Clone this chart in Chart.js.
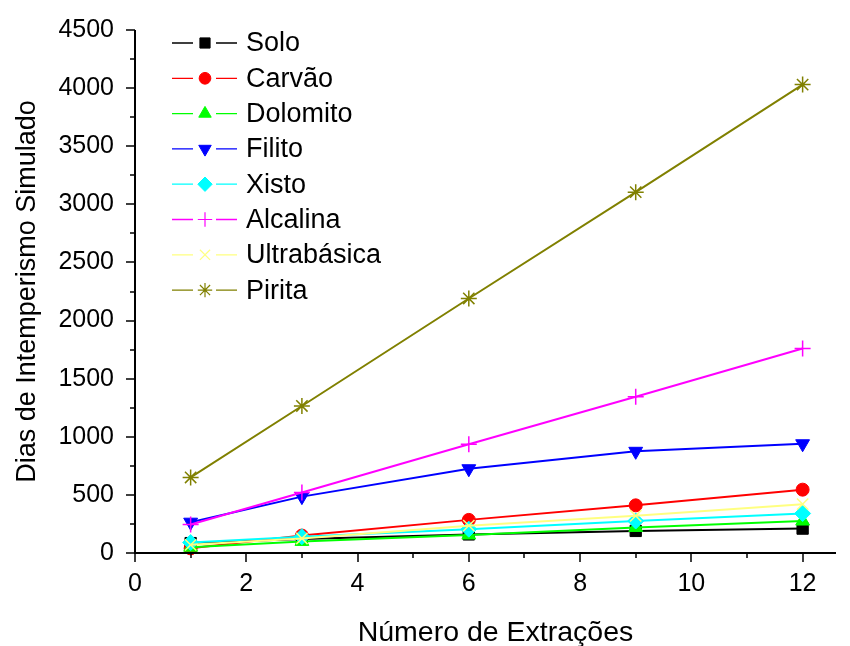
<!DOCTYPE html>
<html>
<head>
<meta charset="utf-8">
<script src="https://cdn.jsdelivr.net/npm/chart.js@4.4.1/dist/chart.umd.min.js"></script>
<style>
  html, body { margin: 0; padding: 0; background: #fff; }
  canvas { display: block; }
</style>
</head>
<body>
<canvas id="chart" width="850" height="646"></canvas>
<script>
// Number of extractions (x) and simulated weathering days per material
const extracoes = [1, 3, 6, 9, 12];
const solo        = [85, 120, 160, 190, 210];
const carvao      = [40, 150, 285, 410, 545];
const dolomito    = [50, 100, 155, 220, 275];
const filito      = [265, 485, 725, 875, 940];
const xisto       = [90, 140, 205, 275, 340];
const alcalina    = [245, 520, 935, 1345, 1760];
const ultrabasica = [70, 125, 235, 320, 420];
const pirita      = [650, 1265, 2190, 3105, 4030];

const seriesNames = ['Solo', 'Carvão', 'Dolomito', 'Filito', 'Xisto', 'Alcalina', 'Ultrabásica', 'Pirita'];
const seriesValues = [solo, carvao, dolomito, filito, xisto, alcalina, ultrabasica, pirita];

const xTickLabels = [0, 2, 4, 6, 8, 10, 12];
const yTickLabels = [0, 500, 1000, 1500, 2000, 2500, 3000, 3500, 4000, 4500];
const xTitle = 'Número de Extrações';

const FONT = '"Liberation Sans", Arial, sans-serif';

// marker look for each series
const styles = [
  { color: '#000000', pointStyle: 'rect',     radius: 8,   rotation: 0,   fill: true },
  { color: '#FF0000', pointStyle: 'circle',   radius: 6.5, rotation: 0,   fill: true },
  { color: '#00FF00', pointStyle: 'triangle', radius: 8,   rotation: 0,   fill: true },
  { color: '#0000FF', pointStyle: 'triangle', radius: 8,   rotation: 180, fill: true },
  { color: '#00FFFF', pointStyle: 'rectRot',  radius: 8,   rotation: 0,   fill: true },
  { color: '#FF00FF', pointStyle: 'cross',    radius: 8,   rotation: 0,   fill: false },
  { color: '#FFFF80', pointStyle: 'crossRot', radius: 8,   rotation: 0,   fill: false },
  { color: '#808000', pointStyle: 'star',     radius: 8,   rotation: 0,   fill: false }
];

const datasets = seriesNames.map((name, i) => ({
  label: name,
  data: extracoes.map((x, j) => ({ x: x, y: seriesValues[i][j] })),
  borderColor: styles[i].color,
  backgroundColor: styles[i].color,
  borderWidth: 2,
  pointStyle: styles[i].pointStyle,
  pointRadius: styles[i].radius,
  pointRotation: styles[i].rotation,
  pointBackgroundColor: styles[i].color,
  pointBorderColor: styles[i].color,
  pointBorderWidth: styles[i].fill ? 1 : 1.5,
  tension: 0,
  clip: false,
  order: seriesNames.length - i
}));

// axis lines with major and minor tick marks, plus the x-axis title
const axisFrame = {
  id: 'axisFrame',
  afterDraw(chart) {
    const { ctx, chartArea: a, scales: { x, y } } = chart;
    ctx.save();
    ctx.strokeStyle = '#000';
    ctx.lineWidth = 2;
    ctx.beginPath();
    ctx.moveTo(a.left, a.top);
    ctx.lineTo(a.left, a.bottom + 1);
    ctx.moveTo(a.left - 1, a.bottom);
    ctx.lineTo(a.right, a.bottom);
    ctx.stroke();
    ctx.lineWidth = 1.5;
    ctx.beginPath();
    x.ticks.forEach(t => {
      const px = Math.round(x.getPixelForValue(t.value));
      const len = xTickLabels.includes(t.value) ? 9 : 5;
      ctx.moveTo(px, a.bottom);
      ctx.lineTo(px, a.bottom + len);
    });
    y.ticks.forEach(t => {
      const py = Math.round(y.getPixelForValue(t.value));
      const len = yTickLabels.includes(t.value) ? 9 : 5;
      ctx.moveTo(a.left, py);
      ctx.lineTo(a.left - len, py);
    });
    ctx.stroke();

    ctx.fillStyle = '#000';
    ctx.font = '28.5px ' + FONT;
    ctx.textAlign = 'center';
    ctx.textBaseline = 'alphabetic';
    ctx.fillText(xTitle, (a.left + a.right) / 2 + 10, 641);
    ctx.restore();
  }
};

// legend with line + marker sample for each series
const lineLegend = {
  id: 'lineLegend',
  afterDraw(chart) {
    const { ctx } = chart;
    ctx.save();
    ctx.font = '27px ' + FONT;
    ctx.textBaseline = 'middle';
    ctx.textAlign = 'left';
    chart.data.datasets.forEach((ds, i) => {
      const yy = 43 + i * 35.3;
      ctx.strokeStyle = ds.borderColor;
      ctx.lineWidth = 1.3;
      ctx.beginPath();
      ctx.moveTo(172, yy); ctx.lineTo(193, yy);
      ctx.moveTo(216, yy); ctx.lineTo(237, yy);
      ctx.stroke();
      ctx.fillStyle = ds.pointBackgroundColor;
      ctx.strokeStyle = ds.pointBorderColor;
      ctx.lineWidth = ds.pointBorderWidth > 1 ? 1.2 : 1;
      Chart.helpers.drawPoint(ctx, {
        pointStyle: ds.pointStyle,
        radius: ds.pointRadius * 0.9,
        rotation: ds.pointRotation,
        borderWidth: 1
      }, 205, yy);
      ctx.fillStyle = '#000';
      ctx.fillText(ds.label, 246, yy + 1);
    });
    ctx.restore();
  }
};

new Chart(document.getElementById('chart'), {
  type: 'line',
  data: { datasets: datasets },
  options: {
    responsive: false,
    devicePixelRatio: 1,
    animation: false,
    layout: { padding: { top: 30, right: 14, left: 0, bottom: 0 } },
    plugins: { legend: { display: false }, tooltip: { enabled: false } },
    scales: {
      x: {
        type: 'linear',
        min: 0,
        max: 12.6,
        grid: { display: false, drawTicks: false },
        border: { display: false },
        afterBuildTicks: s => {
          s.ticks = [];
          for (let v = 0; v <= 12; v++) s.ticks.push({ value: v });
        },
        ticks: {
          autoSkip: false,
          maxRotation: 0,
          padding: 16,
          color: '#000',
          font: { family: FONT, size: 25 },
          callback: v => (xTickLabels.includes(v) ? String(v) : '')
        },
        title: { display: false },
        afterFit: s => { s.height = 93; }
      },
      y: {
        min: 0,
        max: 4500,
        grid: { display: false, drawTicks: false },
        border: { display: false },
        ticks: {
          stepSize: 250,
          autoSkip: false,
          padding: 21,
          color: '#000',
          font: { family: FONT, size: 25, lineHeight: 0.6 },
          callback: v => (yTickLabels.includes(v) ? String(v) : '')
        },
        title: {
          display: true,
          text: 'Dias de Intemperismo Simulado',
          color: '#000',
          font: { family: FONT, size: 27, lineHeight: 1 },
          padding: { top: 14, bottom: 0 }
        },
        afterFit: s => { s.width = 135; }
      }
    }
  },
  plugins: [axisFrame, lineLegend]
});
</script>
</body>
</html>
